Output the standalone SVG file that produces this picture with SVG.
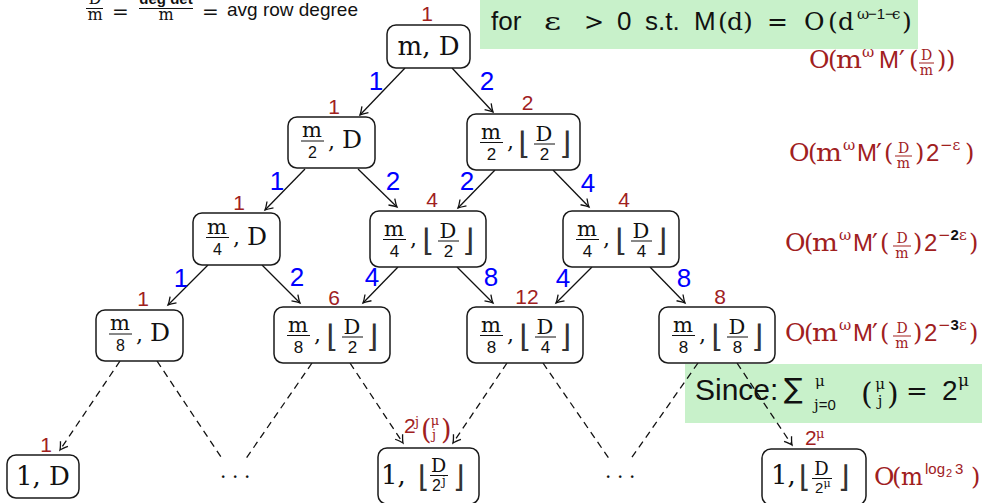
<svg xmlns="http://www.w3.org/2000/svg" width="982" height="503" viewBox="0 0 982 503">
<style>
.box{fill:#fff;stroke:#1a1a1a;stroke-width:1.5}
.s{font-family:"DejaVu Serif",serif;fill:#111}
.ss{font-family:"Liberation Sans",Arial,sans-serif;fill:#111}
.dj{font-family:"DejaVu Sans",sans-serif;fill:#111}
.fl{font-family:"DejaVu Sans",sans-serif;fill:#333}
.bar{stroke:#111;stroke-width:1}
.rbar{stroke:#a0201e;stroke-width:1}
.red{fill:#a0201e}
.blue{fill:#0000ff;font-family:"Liberation Sans",Arial,sans-serif;font-size:26px;text-anchor:middle}
.rl{fill:#a0201e;font-family:"Liberation Sans",Arial,sans-serif;font-size:21px;text-anchor:middle}
.edge{stroke:#111;stroke-width:1.3;fill:none}
.dash{stroke-dasharray:7 5}
.green{fill:#c8f1ca}
.m{text-anchor:middle}
</style>
<defs>
<marker id="ah" markerUnits="userSpaceOnUse" markerWidth="12" markerHeight="12" refX="0" refY="0" viewBox="-9 -6 11 12" orient="auto" overflow="visible">
<path d="M -7.5 -4.5 Q -2.5 -1 0 0 Q -2.5 1 -7.5 4.5" fill="none" stroke="#111" stroke-width="1.3"/>
</marker>
</defs>

<!-- green boxes -->
<rect class="green" x="480" y="0" width="438" height="49"/>
<rect class="green" x="685" y="364" width="297" height="59"/>

<!-- top-left note -->
<g id="note">
<text class="s m" x="95" y="4" font-size="16">D</text>
<line class="bar" x1="86" y1="8.5" x2="103" y2="8.5"/>
<text class="s m" x="95" y="20" font-size="16">m</text>
<text class="s" x="112" y="19" font-size="20">=</text>
<text class="ss m" x="166" y="4" font-size="15" font-weight="bold">deg det</text>
<line class="bar" x1="139" y1="8.5" x2="193" y2="8.5"/>
<text class="s m" x="166" y="20" font-size="16">m</text>
<text class="s" x="202" y="19" font-size="20">=</text>
<text class="ss" x="227" y="16" font-size="19">avg row degree</text>
</g>

<!-- top green text -->
<g id="cond">
<text class="ss" x="491" y="30" font-size="26">for</text>
<text class="s" x="544" y="30" font-size="25" textLength="17" lengthAdjust="spacingAndGlyphs">ε</text>
<text class="s" x="584" y="30" font-size="24">&gt;</text>
<text class="ss" x="617" y="30" font-size="26">0</text>
<text class="ss" x="645" y="30" font-size="26">s.t.</text>
<text class="ss" x="694" y="30" font-size="26">M</text>
<text class="s" x="718" y="30" font-size="25">(</text>
<text class="s" x="727" y="30" font-size="25">d</text>
<text class="s" x="743" y="30" font-size="25">)</text>
<text class="s" x="767" y="30" font-size="25">=</text>
<text class="s" x="804" y="30" font-size="25">O</text>
<text class="s" x="828" y="30" font-size="25">(</text>
<text class="s" x="838" y="30" font-size="25">d</text>
<text class="s" x="857" y="19" font-size="15">ω</text>
<text class="ss" x="868" y="19" font-size="15">−1−</text>
<text class="s" x="892" y="19" font-size="15">ϵ</text>
<text class="s" x="902" y="30" font-size="25">)</text>
</g>

<!-- Since box text -->
<g id="since">
<text class="ss" x="695" y="400" font-size="30">Since:</text>
<text class="dj" x="784" y="398" font-size="28">∑</text>
<text class="s" x="815" y="386" font-size="15">μ</text>
<text class="s" x="814" y="410" font-size="15">j<tspan class="ss">=0</tspan></text>
<text class="s" x="861" y="404" font-size="30">(</text>
<text class="s m" x="880" y="389" font-size="15">μ</text>
<text class="s m" x="880" y="406" font-size="15">j</text>
<text class="s" x="887" y="404" font-size="30">)</text>
<text class="s" x="906" y="400" font-size="26">=</text>
<text class="ss" x="942" y="400" font-size="28">2</text>
<text class="s" x="958" y="386" font-size="17">μ</text>
</g>

<!-- connectors -->
<g id="connectors">
<line class="edge" x1="405" y1="68" x2="360" y2="115" marker-end="url(#ah)"/>
<line class="edge" x1="452" y1="68" x2="493" y2="112" marker-end="url(#ah)"/>
<line class="edge" x1="305" y1="169" x2="265" y2="210" marker-end="url(#ah)"/>
<line class="edge" x1="358" y1="169" x2="397" y2="207" marker-end="url(#ah)"/>
<line class="edge" x1="495" y1="170" x2="458" y2="208" marker-end="url(#ah)"/>
<line class="edge" x1="553" y1="170" x2="589" y2="207" marker-end="url(#ah)"/>
<line class="edge" x1="208" y1="265" x2="168" y2="305" marker-end="url(#ah)"/>
<line class="edge" x1="262" y1="265" x2="300" y2="303" marker-end="url(#ah)"/>
<line class="edge" x1="398" y1="267" x2="363" y2="303" marker-end="url(#ah)"/>
<line class="edge" x1="457" y1="267" x2="493" y2="303" marker-end="url(#ah)"/>
<line class="edge" x1="592" y1="267" x2="556" y2="303" marker-end="url(#ah)"/>
<line class="edge" x1="650" y1="267" x2="685" y2="303" marker-end="url(#ah)"/>
<line class="edge dash" x1="120" y1="361" x2="60" y2="450" marker-end="url(#ah)"/>
<line class="edge dash" x1="157" y1="361" x2="223" y2="460"/>
<line class="edge dash" x1="312" y1="363" x2="245" y2="460"/>
<line class="edge dash" x1="350" y1="363" x2="403" y2="443" marker-end="url(#ah)"/>
<line class="edge dash" x1="507" y1="363" x2="453" y2="443" marker-end="url(#ah)"/>
<line class="edge dash" x1="543" y1="363" x2="610" y2="460"/>
<line class="edge dash" x1="698" y1="363" x2="630" y2="460"/>
<line class="edge dash" x1="737" y1="363" x2="792" y2="445" marker-end="url(#ah)"/>
<text class="blue" x="376" y="90">1</text>
<text class="blue" x="487" y="90">2</text>
<text class="blue" x="277" y="190">1</text>
<text class="blue" x="393" y="190">2</text>
<text class="blue" x="467" y="190">2</text>
<text class="blue" x="588" y="192">4</text>
<text class="blue" x="181" y="287">1</text>
<text class="blue" x="297" y="286">2</text>
<text class="blue" x="372" y="286">4</text>
<text class="blue" x="491" y="286">8</text>
<text class="blue" x="563" y="287">4</text>
<text class="blue" x="684" y="287">8</text>
</g>

<!-- Level 0 -->
<g id="n0">
<rect class="box" x="387" y="25" width="83" height="43" rx="9"/>
<text class="s m" x="428.5" y="55" font-size="26">m, D</text>
<text class="rl" x="427" y="21">1</text>
</g>

<!-- Level 1 -->
<g id="n1a">
<rect class="box" x="288" y="117" width="87" height="51" rx="9"/>
<text class="s m" x="312" y="137" font-size="21">m</text>
<line class="bar" x1="301" y1="141" x2="324" y2="141"/>
<text class="ss m" x="312.5" y="158" font-size="16">2</text>
<text class="s" x="328" y="149" font-size="22">,</text>
<text class="s m" x="352" y="148" font-size="25">D</text>
<text class="rl" x="334" y="114">1</text>
</g>
<g id="n1b">
<rect class="box" x="467" y="114" width="113" height="56" rx="9"/>
<text class="s m" x="491" y="139" font-size="21">m</text>
<line class="bar" x1="480" y1="142.5" x2="503" y2="142.5"/>
<text class="ss m" x="491.5" y="160" font-size="17">2</text>
<text class="s" x="507" y="149" font-size="22">,</text>
<text class="fl" x="518" y="154" font-size="31">⌊</text>
<text class="s m" x="544" y="141" font-size="21">D</text>
<line class="bar" x1="534" y1="144" x2="555" y2="144"/>
<text class="ss m" x="544.5" y="160" font-size="17">2</text>
<text class="fl" x="559" y="154" font-size="31">⌋</text>
<text class="rl" x="527.5" y="110">2</text>
</g>

<!-- Level 2 -->
<g id="n2a">
<rect class="box" x="193" y="213" width="87" height="52" rx="9"/>
<text class="s m" x="217" y="233.5" font-size="21">m</text>
<line class="bar" x1="206" y1="237.5" x2="229" y2="237.5"/>
<text class="ss m" x="217.5" y="254.5" font-size="16">4</text>
<text class="s" x="233" y="245" font-size="22">,</text>
<text class="s m" x="257" y="244.5" font-size="25">D</text>
<text class="rl" x="239" y="210">1</text>
</g>
<g id="n2b">
<rect class="box" x="370" y="211" width="116" height="56" rx="9"/>
<text class="s m" x="394" y="236" font-size="21">m</text>
<line class="bar" x1="383" y1="239.5" x2="406" y2="239.5"/>
<text class="ss m" x="394.5" y="257" font-size="17">4</text>
<text class="s" x="410" y="246" font-size="22">,</text>
<text class="fl" x="422" y="251" font-size="31">⌊</text>
<text class="s m" x="448" y="238" font-size="21">D</text>
<line class="bar" x1="438" y1="241" x2="459" y2="241"/>
<text class="ss m" x="448.5" y="257" font-size="17">2</text>
<text class="fl" x="462" y="251" font-size="31">⌋</text>
<text class="rl" x="432" y="207">4</text>
</g>
<g id="n2c">
<rect class="box" x="563" y="211" width="116" height="56" rx="9"/>
<text class="s m" x="587" y="236" font-size="21">m</text>
<line class="bar" x1="576" y1="239.5" x2="599" y2="239.5"/>
<text class="ss m" x="587.5" y="257" font-size="17">4</text>
<text class="s" x="603" y="246" font-size="22">,</text>
<text class="fl" x="615" y="251" font-size="31">⌊</text>
<text class="s m" x="641" y="238" font-size="21">D</text>
<line class="bar" x1="631" y1="241" x2="652" y2="241"/>
<text class="ss m" x="641.5" y="257" font-size="17">4</text>
<text class="fl" x="655" y="251" font-size="31">⌋</text>
<text class="rl" x="624" y="207">4</text>
</g>

<!-- Level 3 -->
<g id="n3a">
<rect class="box" x="96" y="310" width="87" height="51" rx="9"/>
<text class="s m" x="120" y="330" font-size="21">m</text>
<line class="bar" x1="109" y1="334" x2="132" y2="334"/>
<text class="ss m" x="120.5" y="351" font-size="16">8</text>
<text class="s" x="136" y="342" font-size="22">,</text>
<text class="s m" x="160" y="341" font-size="25">D</text>
<text class="rl" x="143" y="306">1</text>
</g>
<g id="n3b">
<rect class="box" x="274" y="307" width="116" height="56" rx="9"/>
<text class="s m" x="298" y="332" font-size="21">m</text>
<line class="bar" x1="287" y1="335.5" x2="310" y2="335.5"/>
<text class="ss m" x="298.5" y="353" font-size="17">8</text>
<text class="s" x="314" y="342" font-size="22">,</text>
<text class="fl" x="326" y="347" font-size="31">⌊</text>
<text class="s m" x="352" y="334" font-size="21">D</text>
<line class="bar" x1="342" y1="337" x2="363" y2="337"/>
<text class="ss m" x="352.5" y="353" font-size="17">2</text>
<text class="fl" x="366" y="347" font-size="31">⌋</text>
<text class="rl" x="334" y="305">6</text>
</g>
<g id="n3c">
<rect class="box" x="467" y="307" width="116" height="56" rx="9"/>
<text class="s m" x="491" y="332" font-size="21">m</text>
<line class="bar" x1="480" y1="335.5" x2="503" y2="335.5"/>
<text class="ss m" x="491.5" y="353" font-size="17">8</text>
<text class="s" x="507" y="342" font-size="22">,</text>
<text class="fl" x="519" y="347" font-size="31">⌊</text>
<text class="s m" x="545" y="334" font-size="21">D</text>
<line class="bar" x1="535" y1="337" x2="556" y2="337"/>
<text class="ss m" x="545.5" y="353" font-size="17">4</text>
<text class="fl" x="559" y="347" font-size="31">⌋</text>
<text class="rl" x="527" y="304">12</text>
</g>
<g id="n3d">
<rect class="box" x="659" y="307" width="116" height="56" rx="9"/>
<text class="s m" x="683" y="332" font-size="21">m</text>
<line class="bar" x1="672" y1="335.5" x2="695" y2="335.5"/>
<text class="ss m" x="683.5" y="353" font-size="17">8</text>
<text class="s" x="699" y="342" font-size="22">,</text>
<text class="fl" x="711" y="347" font-size="31">⌊</text>
<text class="s m" x="737" y="334" font-size="21">D</text>
<line class="bar" x1="727" y1="337" x2="748" y2="337"/>
<text class="ss m" x="737.5" y="353" font-size="17">8</text>
<text class="fl" x="751" y="347" font-size="31">⌋</text>
<text class="rl" x="720" y="304">8</text>
</g>

<!-- Level 4 -->
<g id="n4a">
<rect class="box" x="7" y="455" width="72" height="43" rx="9"/>
<text class="s m" x="43" y="485" font-size="26">1, D</text>
<text class="rl" x="46" y="452">1</text>
</g>
<g id="dots1"><text class="s" x="220" y="478" font-size="20" letter-spacing="5.6">...</text></g>
<g id="n4b">
<rect class="box" x="378" y="448" width="101" height="56" rx="9"/>
<text class="s" x="381" y="484" font-size="26">1,</text>
<text class="fl" x="418" y="487" font-size="30">⌊</text>
<text class="s m" x="438.5" y="472" font-size="19">D</text>
<line class="bar" x1="430" y1="475.5" x2="448" y2="475.5"/>
<text class="ss" x="432" y="491" font-size="16">2</text>
<text class="s" x="442" y="485" font-size="12">j</text>
<text class="fl" x="453" y="487" font-size="30">⌋</text>
<text class="ss red" x="404" y="433" font-size="21">2</text>
<text class="s red" x="415" y="426" font-size="13">j</text>
<text class="s red" x="421" y="439" font-size="27">(</text>
<text class="s red m" x="435" y="425" font-size="13">μ</text>
<text class="s red m" x="434" y="439" font-size="13">j</text>
<text class="s red" x="441" y="439" font-size="27">)</text>
</g>
<g id="dots2"><text class="s" x="605" y="478" font-size="20" letter-spacing="5.6">...</text></g>
<g id="n4c">
<rect class="box" x="762" y="449" width="104" height="56" rx="9"/>
<text class="s" x="771" y="484" font-size="26">1,</text>
<text class="fl" x="799" y="487" font-size="30">⌊</text>
<text class="s m" x="821.5" y="475" font-size="18">D</text>
<line class="bar" x1="812" y1="478.5" x2="832" y2="478.5"/>
<text class="ss" x="815" y="493" font-size="15">2</text>
<text class="s" x="823.5" y="487" font-size="11">μ</text>
<text class="fl" x="838" y="487" font-size="30">⌋</text>
<text class="ss red" x="805" y="445" font-size="21">2</text>
<text class="s red" x="816" y="438" font-size="13">μ</text>
</g>

<!-- cost labels -->
<g id="cost0">
<text class="s red" x="809" y="68" font-size="25">O</text>
<text class="s red" x="828" y="68" font-size="24">(</text>
<text class="s red" x="836" y="68" font-size="24" textLength="26" lengthAdjust="spacingAndGlyphs">m</text>
<text class="s red" x="862" y="57" font-size="15">ω</text>
<text class="ss red" x="879" y="68" font-size="24">M</text>
<text class="dj red" x="899" y="70" font-size="26">′</text>
<text class="s red" x="909" y="68" font-size="24">(</text>
<text class="s red m" x="926.5" y="60" font-size="14">D</text>
<line class="rbar" x1="919" y1="63" x2="934" y2="63"/>
<text class="s red m" x="926.5" y="75" font-size="14">m</text>
<text class="s red" x="937" y="68" font-size="24">)</text>
<text class="s red" x="946" y="68" font-size="24">)</text>
</g>
<g id="cost1">
<text class="s red" x="789" y="161" font-size="25">O</text>
<text class="s red" x="808" y="161" font-size="24">(</text>
<text class="s red" x="816" y="161" font-size="24" textLength="26" lengthAdjust="spacingAndGlyphs">m</text>
<text class="s red" x="843" y="150" font-size="15">ω</text>
<text class="ss red" x="857" y="161" font-size="24">M</text>
<text class="dj red" x="876" y="163" font-size="26">′</text>
<text class="s red" x="884" y="161" font-size="24">(</text>
<text class="s red m" x="903.5" y="153" font-size="14">D</text>
<line class="rbar" x1="895" y1="156" x2="912" y2="156"/>
<text class="s red m" x="903.5" y="168" font-size="14">m</text>
<text class="s red" x="915" y="161" font-size="24">)</text>
<text class="ss red" x="926" y="161" font-size="24">2</text>
<text class="s red" x="940" y="150" font-size="15">−ε</text>
<text class="s red" x="965" y="161" font-size="24">)</text>
</g>
<g id="cost2">
<text class="s red" x="785" y="251" font-size="25">O</text>
<text class="s red" x="804" y="251" font-size="24">(</text>
<text class="s red" x="812" y="251" font-size="24" textLength="26" lengthAdjust="spacingAndGlyphs">m</text>
<text class="s red" x="839" y="240" font-size="15">ω</text>
<text class="ss red" x="853" y="251" font-size="24">M</text>
<text class="dj red" x="872" y="253" font-size="26">′</text>
<text class="s red" x="880" y="251" font-size="24">(</text>
<text class="s red m" x="902" y="243" font-size="14">D</text>
<line class="rbar" x1="893" y1="246" x2="911" y2="246"/>
<text class="s red m" x="902" y="258" font-size="14">m</text>
<text class="s red" x="913" y="251" font-size="24">)</text>
<text class="ss red" x="924" y="251" font-size="24">2</text>
<text class="s red" x="938" y="240" font-size="15">−<tspan class="ss" font-weight="bold">2</tspan>ε</text>
<text class="s red" x="969" y="251" font-size="24">)</text>
</g>
<g id="cost3">
<text class="s red" x="785" y="341" font-size="25">O</text>
<text class="s red" x="804" y="341" font-size="24">(</text>
<text class="s red" x="812" y="341" font-size="24" textLength="26" lengthAdjust="spacingAndGlyphs">m</text>
<text class="s red" x="839" y="330" font-size="15">ω</text>
<text class="ss red" x="853" y="341" font-size="24">M</text>
<text class="dj red" x="872" y="343" font-size="26">′</text>
<text class="s red" x="880" y="341" font-size="24">(</text>
<text class="s red m" x="902" y="333" font-size="14">D</text>
<line class="rbar" x1="893" y1="336" x2="911" y2="336"/>
<text class="s red m" x="902" y="348" font-size="14">m</text>
<text class="s red" x="913" y="341" font-size="24">)</text>
<text class="ss red" x="924" y="341" font-size="24">2</text>
<text class="s red" x="938" y="330" font-size="15">−<tspan class="ss" font-weight="bold">3</tspan>ε</text>
<text class="s red" x="969" y="341" font-size="24">)</text>
</g>
<g id="cost4">
<text class="s red" x="874" y="485" font-size="25">O</text>
<text class="s red" x="892" y="485" font-size="24">(</text>
<text class="s red" x="901" y="485" font-size="24" textLength="22" lengthAdjust="spacingAndGlyphs">m</text>
<text class="ss red" x="925" y="474" font-size="15">log</text>
<text class="ss red" x="946" y="477" font-size="11">2</text>
<text class="ss red" x="955" y="474" font-size="15">3</text>
<text class="s red" x="971" y="485" font-size="24">)</text>
</g>
</svg>
